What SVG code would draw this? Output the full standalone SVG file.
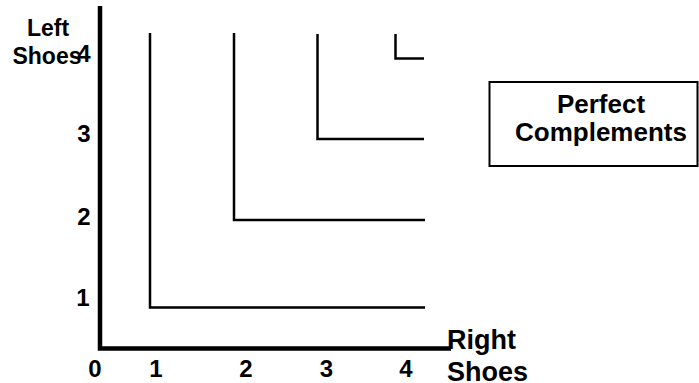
<svg xmlns="http://www.w3.org/2000/svg" width="699" height="383" viewBox="0 0 699 383">
<style>
.t{font-family:"Liberation Sans",Arial,sans-serif;font-weight:bold;font-size:23px;fill:#000}
.k{font-size:24px}
.big{font-size:27px}
.lg{font-size:26px}
.m{text-anchor:middle}
.ax{stroke:#000;stroke-width:4.5;fill:none}
.ic{stroke:#000;stroke-width:2.5;fill:none}
</style>
<rect width="699" height="383" fill="#fff"/>
<g id="axes">
<path class="ax" d="M100,6 V348.5 H451"/>
</g>
<g id="connectors">
<path class="ic" d="M150,33 V307.5 H425"/>
<path class="ic" d="M234,33 V220 H425"/>
<path class="ic" d="M317.5,34 V139 H424"/>
<path class="ic" d="M395.5,34 V58.5 H424"/>
</g>
<g id="y-label">
<text class="t m" x="48" y="36">Left</text>
<text class="t m" x="47" y="64">Shoes</text>
</g>
<g id="y-ticks">
<text class="t k m" x="84" y="62">4</text>
<text class="t k m" x="84" y="142">3</text>
<text class="t k m" x="84" y="225">2</text>
<text class="t k m" x="83" y="306">1</text>
</g>
<g id="x-ticks">
<text class="t k m" x="95" y="377">0</text>
<text class="t k m" x="156" y="377">1</text>
<text class="t k m" x="246" y="377">2</text>
<text class="t k m" x="326.5" y="377">3</text>
<text class="t k m" x="406" y="377">4</text>
</g>
<g id="x-label">
<text class="t big" x="447" y="349">Right</text>
<text class="t big" x="447" y="381">Shoes</text>
</g>
<g id="legend">
<rect x="489.5" y="82" width="208" height="84" fill="#fff" stroke="#000" stroke-width="2"/>
<text class="t lg m" x="601" y="113">Perfect</text>
<text class="t lg m" x="601" y="141">Complements</text>
</g>
</svg>
